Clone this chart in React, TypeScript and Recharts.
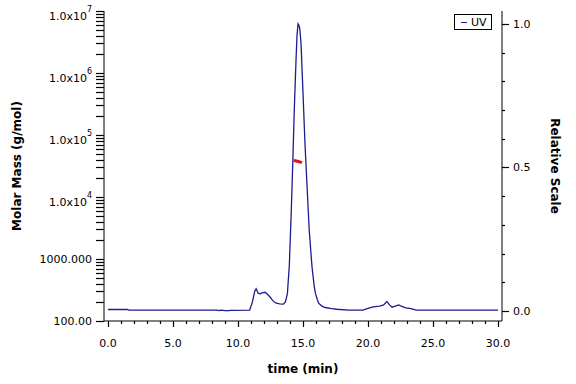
import React from 'react';
import { ComposedChart, Line, XAxis, YAxis, Label } from 'recharts';

// UV detector trace (relative scale)
const uvTime = [
  0, 1.5, 1.6, 8.4, 8.55, 8.7, 8.85, 9.0, 9.3, 9.45,
  10.9, 11.1, 11.3, 11.4, 11.55, 11.7, 11.9, 12.1, 12.4, 12.7,
  12.9, 13.2, 13.5, 13.65, 13.8, 13.95, 14.1, 14.23, 14.33, 14.46,
  14.54, 14.62, 14.68, 14.75, 14.85, 15.0, 15.15, 15.3, 15.48, 15.69,
  15.85, 15.95, 16.1, 16.2, 16.45, 16.72, 17.2, 17.6, 18.5, 19.6,
  20.0, 20.4, 20.9, 21.2, 21.45, 21.65, 21.85, 22.1, 22.35, 22.6,
  22.9, 23.3, 23.7, 25.0, 30.0,
];
const uvRelative = [
  0.005, 0.005, 0.003, 0.003, 0.001, 0.003, 0.002, 0.001, 0.001, 0.002,
  0.003, 0.03, 0.07, 0.077, 0.062, 0.06, 0.064, 0.065, 0.052, 0.035,
  0.028, 0.025, 0.024, 0.032, 0.06, 0.16, 0.35, 0.54, 0.7, 0.87,
  0.96, 1.0, 0.995, 0.985, 0.93, 0.76, 0.585, 0.445, 0.28, 0.155,
  0.09, 0.062, 0.04, 0.027, 0.017, 0.012, 0.008, 0.006, 0.003, 0.003,
  0.009, 0.014, 0.017, 0.021, 0.033, 0.021, 0.013, 0.017, 0.021, 0.016,
  0.011, 0.008, 0.003, 0.003, 0.003,
];

// molar mass across the main peak (g/mol)
const mwTime = [14.28, 14.4, 14.55, 14.7, 14.85, 14.92];
const mwMolarMass = [39000, 38500, 37800, 37000, 36200, 35700];

// axis ticks
const timeTicks = Array.from({ length: 31 }, (_, i) => i);
const relTicks = [0, 0.1, 0.2, 0.3, 0.4, 0.5, 0.6, 0.7, 0.8, 0.9, 1.0];
const massDecades = [100, 1000, 10000, 100000, 1000000, 10000000];
const massTicks = massDecades.flatMap((d) =>
  d === 10000000 ? [d] : [1, 2, 3, 4, 5, 6, 7, 8, 9].map((m) => m * d)
);

const uvData = uvTime.map((t, i) => ({ t, uv: uvRelative[i] }));
const mwData = mwTime.map((t, i) => ({ t, mw: mwMolarMass[i] }));

const FONT = '"DejaVu Sans", sans-serif';
const TICK_SIZE = 7;
const TICK_MARGIN = 4;
const MASS_AXIS_X = 104;

// snap a 1px stroke to the pixel grid
const crisp = (v: number) => Math.round(v) + 0.5;

// log axis: a mark at every 1..9 x decade, labels on the decades only
const MassTick = (props: any) => {
  const y = Number(props.y);
  const v = Number(props.payload.value);
  const exp = Math.round(Math.log10(v));
  const decade = Math.abs(v - Math.pow(10, exp)) < v * 1e-6;
  const tx = MASS_AXIS_X - TICK_SIZE - TICK_MARGIN - 1;
  let label = null;
  if (decade && exp <= 3) {
    label = (
      <text x={tx} y={y + 4} textAnchor="end" fontSize={11} fontFamily={FONT} fill="#000">
        {exp === 2 ? '100.00' : '1000.000'}
      </text>
    );
  } else if (decade) {
    label = (
      <text x={tx} y={y + 9} textAnchor="end" fontSize={11} fontFamily={FONT} fill="#000">
        <tspan>1.0x10</tspan>
        <tspan dy={-8} fontSize={8}>{exp}</tspan>
      </text>
    );
  }
  const ly = crisp(y);
  return (
    <g>
      <path d={`M${MASS_AXIS_X - 8},${ly}H${MASS_AXIS_X}`} stroke="#000" strokeWidth={1.2} fill="none" />
      {label}
    </g>
  );
};

const RelTick = (props: any) => {
  const x = Number(props.x);
  const y = Number(props.y);
  const v = Number(props.payload.value);
  const major = Math.abs(v * 2 - Math.round(v * 2)) < 1e-6;
  const ax = x - TICK_SIZE - TICK_MARGIN;
  const ly = crisp(y);
  return (
    <g>
      <path d={`M${ax},${ly}H${ax + (major ? 7 : 3)}`} stroke="#000" strokeWidth={1.2} fill="none" />
      {major && (
        <text x={ax + 11} y={y + 4} textAnchor="start" fontSize={11} fontFamily={FONT} fill="#000">
          {v.toFixed(1)}
        </text>
      )}
    </g>
  );
};

const TimeTick = (props: any) => {
  const x = Number(props.x);
  const y = Number(props.y);
  const v = Number(props.payload.value);
  const major = v % 5 === 0;
  const ay = y - TICK_SIZE - TICK_MARGIN;
  const lx = crisp(x);
  return (
    <g>
      <path d={`M${lx},${ay}V${ay + (major ? 6 : 3)}`} stroke="#000" strokeWidth={1.2} fill="none" />
      {major && (
        <text x={x} y={ay + 26} textAnchor="middle" fontSize={11} fontFamily={FONT} fill="#000">
          {v.toFixed(1)}
        </text>
      )}
    </g>
  );
};

const titleStyle = {
  fontFamily: FONT,
  fontWeight: 'bold' as const,
  fontSize: 12,
  fill: '#000',
  textAnchor: 'middle' as const,
};

const axisLine = { stroke: '#000' };

export default function App() {
  return (
    <div style={{ position: 'absolute', left: 0, top: 0, width: 576, height: 384, background: '#fff' }}>
      <ComposedChart
        width={576}
        height={384}
        margin={{ top: 11, right: 14, bottom: 23, left: 0 }}
      >
        <XAxis
          xAxisId="time"
          dataKey="t"
          type="number"
          domain={[-0.3, 30.3]}
          ticks={timeTicks}
          interval={0}
          allowDataOverflow
          height={40}
          axisLine={axisLine}
          tickLine={false}
          tickSize={TICK_SIZE}
          tickMargin={TICK_MARGIN}
          tick={<TimeTick />}
        >
          <Label value="time (min)" position="bottom" offset={3} style={titleStyle} />
        </XAxis>
        <XAxis
          xAxisId="frame"
          orientation="top"
          type="number"
          domain={[-0.3, 30.3]}
          height={0}
          tick={false}
          tickLine={false}
          axisLine={axisLine}
        />
        <YAxis
          yAxisId="mass"
          orientation="left"
          type="number"
          scale="log"
          domain={[100, 10000000]}
          ticks={massTicks}
          interval={0}
          allowDataOverflow
          width={MASS_AXIS_X}
          axisLine={axisLine}
          tickLine={false}
          tickSize={TICK_SIZE}
          tickMargin={TICK_MARGIN}
          tick={<MassTick />}
        >
          <Label value="Molar Mass (g/mol)" angle={-90} position="insideLeft" offset={17} style={titleStyle} />
        </YAxis>
        <YAxis
          yAxisId="rel"
          orientation="right"
          type="number"
          domain={[-0.035, 1.045]}
          ticks={relTicks}
          interval={0}
          allowDataOverflow
          width={60}
          axisLine={axisLine}
          tickLine={false}
          tickSize={TICK_SIZE}
          tickMargin={TICK_MARGIN}
          tick={<RelTick />}
        >
          <Label value="Relative Scale" angle={90} position="insideRight" offset={7} style={titleStyle} />
        </YAxis>
        <Line
          data={uvData}
          xAxisId="time"
          yAxisId="rel"
          dataKey="uv"
          type="linear"
          stroke="#1c1c8e"
          strokeWidth={1.3}
          dot={false}
          activeDot={false}
          isAnimationActive={false}
        />
        <Line
          data={mwData}
          xAxisId="time"
          yAxisId="mass"
          dataKey="mw"
          type="linear"
          stroke="#e01414"
          strokeWidth={3}
          dot={false}
          activeDot={false}
          isAnimationActive={false}
        />
      </ComposedChart>
      <div
        style={{
          position: 'absolute',
          left: 454,
          top: 14,
          width: 38,
          height: 16,
          border: '1px solid #000',
          boxSizing: 'border-box',
          display: 'flex',
          alignItems: 'center',
          fontFamily: FONT,
          fontSize: 11,
          background: '#fff',
        }}
      >
        <span style={{ display: 'inline-block', width: 6, height: 1, background: '#1c1c8e', marginLeft: 6, marginRight: 4 }} />
        <span>UV</span>
      </div>
    </div>
  );
}
